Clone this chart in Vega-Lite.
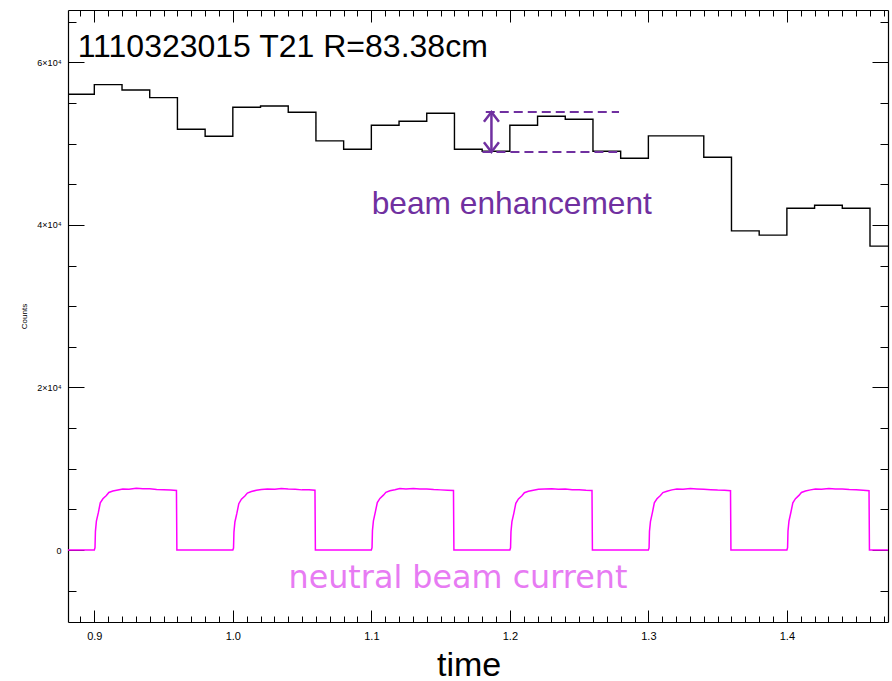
{
  "$schema": "https://vega.github.io/schema/vega-lite/v6.json",
  "width": 820,
  "height": 612,
  "autosize": {"type": "none"},
  "padding": {"left": 68, "top": 10, "right": 4, "bottom": 59},
  "background": "white",
  "config": {"view": {"stroke": null}, "axis": {"grid": false, "domainColor": "black", "tickColor": "black", "labelColor": "black", "titleColor": "black", "labelFont": "Liberation Sans", "titleFont": "Liberation Sans", "titleFontWeight": "normal"}},
  "datasets": {
    "counts": [
      {"t": 0.88, "c": 56067}, {"t": 0.90, "c": 57248}, {"t": 0.92, "c": 56597}, {"t": 0.94, "c": 55650},
      {"t": 0.96, "c": 51765}, {"t": 0.98, "c": 50904}, {"t": 1.00, "c": 54469}, {"t": 1.02, "c": 54629},
      {"t": 1.04, "c": 53855}, {"t": 1.06, "c": 50326}, {"t": 1.08, "c": 49305}, {"t": 1.10, "c": 52256},
      {"t": 1.12, "c": 52748}, {"t": 1.14, "c": 53732}, {"t": 1.16, "c": 49305}, {"t": 1.18, "c": 49059},
      {"t": 1.20, "c": 52256}, {"t": 1.22, "c": 53363}, {"t": 1.24, "c": 52994}, {"t": 1.26, "c": 49059},
      {"t": 1.28, "c": 48199}, {"t": 1.30, "c": 50940}, {"t": 1.32, "c": 50940}, {"t": 1.34, "c": 48322},
      {"t": 1.36, "c": 39260}, {"t": 1.38, "c": 38731}, {"t": 1.40, "c": 42051}, {"t": 1.42, "c": 42420},
      {"t": 1.44, "c": 42051}, {"t": 1.46, "c": 37379}, {"t": 1.48, "c": 37379}
    ],
    "beam": [
      {"t": 0.88, "c": 0},
      {"t": 0.9, "c": 0}, {"t": 0.9005, "c": 300}, {"t": 0.9008, "c": 2300}, {"t": 0.9015, "c": 3550}, {"t": 0.9029, "c": 4600}, {"t": 0.9043, "c": 5800}, {"t": 0.9062, "c": 6300}, {"t": 0.9087, "c": 6700}, {"t": 0.9105, "c": 7080}, {"t": 0.9134, "c": 7250}, {"t": 0.917, "c": 7380}, {"t": 0.9206, "c": 7500}, {"t": 0.925, "c": 7480}, {"t": 0.9303, "c": 7600}, {"t": 0.935, "c": 7530}, {"t": 0.94, "c": 7550}, {"t": 0.945, "c": 7440}, {"t": 0.95, "c": 7420}, {"t": 0.955, "c": 7380}, {"t": 0.9593, "c": 7330}, {"t": 0.9596, "c": 0},
      {"t": 1.0, "c": 0}, {"t": 1.0005, "c": 250}, {"t": 1.0008, "c": 2200}, {"t": 1.0015, "c": 3450}, {"t": 1.0029, "c": 4500}, {"t": 1.0043, "c": 5700}, {"t": 1.0062, "c": 6250}, {"t": 1.0087, "c": 6650}, {"t": 1.0105, "c": 7000}, {"t": 1.0134, "c": 7200}, {"t": 1.017, "c": 7350}, {"t": 1.0206, "c": 7450}, {"t": 1.025, "c": 7520}, {"t": 1.0303, "c": 7480}, {"t": 1.035, "c": 7560}, {"t": 1.04, "c": 7500}, {"t": 1.045, "c": 7470}, {"t": 1.05, "c": 7400}, {"t": 1.055, "c": 7420}, {"t": 1.0593, "c": 7350}, {"t": 1.0596, "c": 0},
      {"t": 1.1, "c": 0}, {"t": 1.1005, "c": 300}, {"t": 1.1008, "c": 2400}, {"t": 1.1015, "c": 3600}, {"t": 1.1029, "c": 4700}, {"t": 1.1043, "c": 5850}, {"t": 1.1062, "c": 6350}, {"t": 1.1087, "c": 6750}, {"t": 1.1105, "c": 7100}, {"t": 1.1134, "c": 7300}, {"t": 1.117, "c": 7420}, {"t": 1.1206, "c": 7560}, {"t": 1.125, "c": 7520}, {"t": 1.1303, "c": 7580}, {"t": 1.135, "c": 7500}, {"t": 1.14, "c": 7520}, {"t": 1.145, "c": 7450}, {"t": 1.15, "c": 7400}, {"t": 1.155, "c": 7360}, {"t": 1.1593, "c": 7320}, {"t": 1.1596, "c": 0},
      {"t": 1.2, "c": 0}, {"t": 1.2005, "c": 280}, {"t": 1.2008, "c": 2250}, {"t": 1.2015, "c": 3500}, {"t": 1.2029, "c": 4550}, {"t": 1.2043, "c": 5750}, {"t": 1.2062, "c": 6280}, {"t": 1.2087, "c": 6680}, {"t": 1.2105, "c": 7050}, {"t": 1.2134, "c": 7220}, {"t": 1.217, "c": 7360}, {"t": 1.2206, "c": 7480}, {"t": 1.225, "c": 7500}, {"t": 1.2303, "c": 7540}, {"t": 1.235, "c": 7480}, {"t": 1.24, "c": 7510}, {"t": 1.245, "c": 7420}, {"t": 1.25, "c": 7400}, {"t": 1.255, "c": 7340}, {"t": 1.2593, "c": 7320}, {"t": 1.2596, "c": 0},
      {"t": 1.3, "c": 0}, {"t": 1.3005, "c": 260}, {"t": 1.3008, "c": 2300}, {"t": 1.3015, "c": 3500}, {"t": 1.3029, "c": 4600}, {"t": 1.3043, "c": 5800}, {"t": 1.3062, "c": 6300}, {"t": 1.3087, "c": 6700}, {"t": 1.3105, "c": 7060}, {"t": 1.3134, "c": 7240}, {"t": 1.317, "c": 7400}, {"t": 1.3206, "c": 7500}, {"t": 1.325, "c": 7470}, {"t": 1.3303, "c": 7560}, {"t": 1.335, "c": 7520}, {"t": 1.34, "c": 7480}, {"t": 1.345, "c": 7430}, {"t": 1.35, "c": 7380}, {"t": 1.355, "c": 7360}, {"t": 1.3593, "c": 7300}, {"t": 1.3596, "c": 0},
      {"t": 1.4, "c": 0}, {"t": 1.4005, "c": 300}, {"t": 1.4008, "c": 2350}, {"t": 1.4015, "c": 3550}, {"t": 1.4029, "c": 4650}, {"t": 1.4043, "c": 5800}, {"t": 1.4062, "c": 6320}, {"t": 1.4087, "c": 6720}, {"t": 1.4105, "c": 7080}, {"t": 1.4134, "c": 7260}, {"t": 1.417, "c": 7400}, {"t": 1.4206, "c": 7520}, {"t": 1.425, "c": 7480}, {"t": 1.4303, "c": 7560}, {"t": 1.435, "c": 7500}, {"t": 1.44, "c": 7520}, {"t": 1.445, "c": 7440}, {"t": 1.45, "c": 7400}, {"t": 1.455, "c": 7350}, {"t": 1.4593, "c": 7300}, {"t": 1.4596, "c": 0},
      {"t": 1.48, "c": 0}
    ],
    "dashes": [
      {"t": 1.1826, "c": 53891, "k": "upper"}, {"t": 1.2788, "c": 53891, "k": "upper"},
      {"t": 1.1802, "c": 48973, "k": "lower"}, {"t": 1.2775, "c": 48973, "k": "lower"}
    ],
    "shaft": [{"t": 1.1867, "c": 53891, "c2": 48973}],
    "heads": [{"t": 1.1867, "c": 53891, "dir": "up"}, {"t": 1.1867, "c": 48973, "dir": "down"}]
  },
  "resolve": {"axis": {"x": "independent", "y": "independent"}},
  "layer": [
    {
      "data": {"name": "counts"},
      "mark": {"type": "line", "interpolate": "step-after", "color": "black", "strokeWidth": 1.4, "clip": true},
      "encoding": {
        "x": {"field": "t", "type": "quantitative", "scale": {"domain": [0.881, 1.473], "nice": false, "zero": false},
          "axis": {"orient": "bottom", "values": [0.9, 1.0, 1.1, 1.2, 1.3, 1.4], "format": ".1f", "ticks": false, "domain": true, "domainWidth": 1.2, "labelFontSize": 11, "labelPadding": 8, "title": "time", "titleFontSize": 34, "titleX": 400.6, "titleY": 53, "titleBaseline": "alphabetic", "titleAlign": "center"}},
        "y": {"field": "c", "type": "quantitative", "scale": {"domain": [-8853, 66430], "nice": false, "zero": false},
          "axis": {"orient": "left", "values": [0, 20000, 40000, 60000], "labelExpr": "datum.value == 0 ? '0' : (datum.value/10000) + '×10⁴'", "ticks": false, "domain": true, "domainWidth": 1.2, "labelFontSize": 9, "labelPadding": 7, "title": "Counts", "titleFontSize": 8, "titleX": -44, "titleY": 306, "titleAngle": 270, "titleAlign": "center", "titleBaseline": "middle"}}
      }
    },
    {
      "data": {"name": "beam"},
      "mark": {"type": "line", "color": "#FF00FF", "strokeWidth": 1.5, "clip": true},
      "encoding": {
        "x": {"field": "t", "type": "quantitative", "scale": {"domain": [0.881, 1.473], "nice": false, "zero": false},
          "axis": {"orient": "bottom", "values": [0.9, 1.0, 1.1, 1.2, 1.3, 1.4], "labels": false, "domain": false, "ticks": true, "tickSize": -12, "tickWidth": 1, "title": null}},
        "y": {"field": "c", "type": "quantitative", "scale": {"domain": [-8853, 66430], "nice": false, "zero": false},
          "axis": {"orient": "left", "values": [0, 20000, 40000, 60000], "labels": false, "domain": false, "ticks": true, "tickSize": -16, "tickWidth": 1, "title": null}}
      }
    },
    {
      "data": {"name": "dashes"},
      "mark": {"type": "line", "color": "#7030A0", "strokeWidth": 2, "strokeDash": [9, 5]},
      "encoding": {
        "detail": {"field": "k"},
        "x": {"field": "t", "type": "quantitative", "scale": {"domain": [0.881, 1.473], "nice": false, "zero": false},
          "axis": {"orient": "bottom", "values": [0.89, 0.91, 0.92, 0.93, 0.94, 0.95, 0.96, 0.97, 0.98, 0.99, 1.01, 1.02, 1.03, 1.04, 1.05, 1.06, 1.07, 1.08, 1.09, 1.11, 1.12, 1.13, 1.14, 1.15, 1.16, 1.17, 1.18, 1.19, 1.21, 1.22, 1.23, 1.24, 1.25, 1.26, 1.27, 1.28, 1.29, 1.31, 1.32, 1.33, 1.34, 1.35, 1.36, 1.37, 1.38, 1.39, 1.41, 1.42, 1.43, 1.44, 1.45, 1.46, 1.47], "labels": false, "domain": false, "ticks": true, "tickSize": -6, "tickWidth": 1, "title": null}},
        "y": {"field": "c", "type": "quantitative", "scale": {"domain": [-8853, 66430], "nice": false, "zero": false},
          "axis": {"orient": "left", "values": [-5000, 5000, 10000, 15000, 25000, 30000, 35000, 45000, 50000, 55000, 65000], "labels": false, "domain": false, "ticks": true, "tickSize": -8, "tickWidth": 1, "title": null}}
      }
    },
    {
      "data": {"name": "shaft"},
      "mark": {"type": "rule", "color": "#7030A0", "strokeWidth": 2.5},
      "encoding": {
        "x": {"field": "t", "type": "quantitative", "scale": {"domain": [0.881, 1.473], "nice": false, "zero": false},
          "axis": {"orient": "top", "values": [0.9, 1.0, 1.1, 1.2, 1.3, 1.4], "labels": false, "domain": true, "domainWidth": 1.2, "ticks": true, "tickSize": -12, "tickWidth": 1, "title": null}},
        "y": {"field": "c", "type": "quantitative", "scale": {"domain": [-8853, 66430], "nice": false, "zero": false},
          "axis": {"orient": "right", "values": [0, 20000, 40000, 60000], "labels": false, "domain": true, "domainWidth": 1.2, "ticks": true, "tickSize": -16, "tickWidth": 1, "title": null}},
        "y2": {"field": "c2"}
      }
    },
    {
      "data": {"name": "heads"},
      "mark": {"type": "point", "filled": false, "stroke": "#7030A0", "strokeWidth": 2.5, "size": 225, "opacity": 1},
      "encoding": {
        "x": {"field": "t", "type": "quantitative", "scale": {"domain": [0.881, 1.473], "nice": false, "zero": false},
          "axis": {"orient": "top", "values": [0.89, 0.91, 0.92, 0.93, 0.94, 0.95, 0.96, 0.97, 0.98, 0.99, 1.01, 1.02, 1.03, 1.04, 1.05, 1.06, 1.07, 1.08, 1.09, 1.11, 1.12, 1.13, 1.14, 1.15, 1.16, 1.17, 1.18, 1.19, 1.21, 1.22, 1.23, 1.24, 1.25, 1.26, 1.27, 1.28, 1.29, 1.31, 1.32, 1.33, 1.34, 1.35, 1.36, 1.37, 1.38, 1.39, 1.41, 1.42, 1.43, 1.44, 1.45, 1.46, 1.47], "labels": false, "domain": false, "ticks": true, "tickSize": -6, "tickWidth": 1, "title": null}},
        "y": {"field": "c", "type": "quantitative", "scale": {"domain": [-8853, 66430], "nice": false, "zero": false},
          "axis": {"orient": "right", "values": [-5000, 5000, 10000, 15000, 25000, 30000, 35000, 45000, 50000, 55000, 65000], "labels": false, "domain": false, "ticks": true, "tickSize": -8, "tickWidth": 1, "title": null}},
        "shape": {"field": "dir", "type": "nominal", "scale": {"domain": ["up", "down"], "range": ["M-1,1.3L0,0L1,1.3", "M-1,-1.3L0,0L1,-1.3"]}, "legend": null}
      }
    },
    {
      "data": {"values": [{"t": 0.888, "c": 60690, "label": "1110323015 T21 R=83.38cm"}]},
      "mark": {"type": "text", "align": "left", "baseline": "alphabetic", "font": "Liberation Sans", "fontSize": 32, "color": "black"},
      "encoding": {
        "x": {"field": "t", "type": "quantitative", "scale": {"domain": [0.881, 1.473], "nice": false, "zero": false}, "axis": null},
        "y": {"field": "c", "type": "quantitative", "scale": {"domain": [-8853, 66430], "nice": false, "zero": false}, "axis": null},
        "text": {"field": "label"}
      }
    },
    {
      "data": {"values": [{"t": 1.2014, "c": 41350, "label": "beam enhancement"}]},
      "mark": {"type": "text", "align": "center", "baseline": "alphabetic", "font": "Liberation Sans", "fontSize": 31.7, "color": "#7030A0"},
      "encoding": {
        "x": {"field": "t", "type": "quantitative", "scale": {"domain": [0.881, 1.473], "nice": false, "zero": false}, "axis": null},
        "y": {"field": "c", "type": "quantitative", "scale": {"domain": [-8853, 66430], "nice": false, "zero": false}, "axis": null},
        "text": {"field": "label"}
      }
    },
    {
      "data": {"values": [{"t": 1.1625, "c": -4672, "label": "neutral beam current"}]},
      "mark": {"type": "text", "align": "center", "baseline": "alphabetic", "font": "DejaVu Sans", "fontSize": 31.8, "color": "#E77BF3"},
      "encoding": {
        "x": {"field": "t", "type": "quantitative", "scale": {"domain": [0.881, 1.473], "nice": false, "zero": false}, "axis": null},
        "y": {"field": "c", "type": "quantitative", "scale": {"domain": [-8853, 66430], "nice": false, "zero": false}, "axis": null},
        "text": {"field": "label"}
      }
    }
  ]
}
